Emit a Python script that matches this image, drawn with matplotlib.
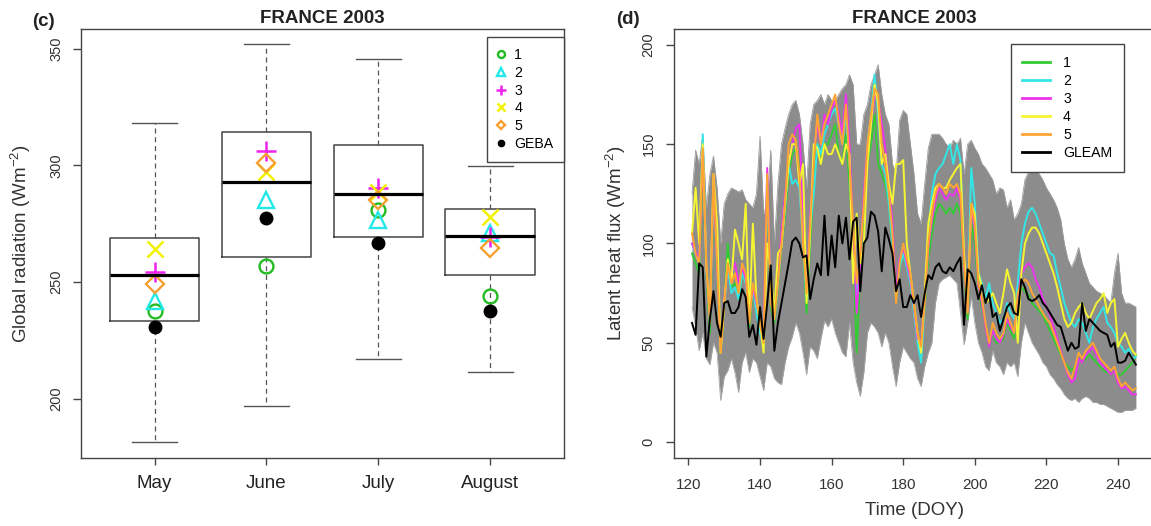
import matplotlib
matplotlib.use('Agg')
import matplotlib.pyplot as plt
import numpy as np

plt.rcParams['font.family'] = ['Liberation Sans', 'DejaVu Sans']
plt.rcParams['mathtext.fontset'] = 'custom'
plt.rcParams['mathtext.rm'] = 'Liberation Sans'
plt.rcParams['mathtext.it'] = 'Liberation Sans:italic'

# ---- panel (c): monthly global radiation ----
months = ['May', 'June', 'July', 'August']
box_low = [181.5, 196.7, 217.1, 211.3]
box_q1 = [233.4, 260.9, 269.4, 253.1]
box_med = [252.9, 293.0, 287.7, 269.7]
box_q3 = [268.9, 314.4, 308.6, 281.2]
box_high = [318.4, 352.0, 345.7, 299.6]

run1 = [237.4, 257.0, 280.9, 243.9]
run2 = [241.7, 285.1, 276.6, 270.9]
run3 = [254.5, 306.3, 290.2, 269.4]
run4 = [264.0, 297.3, 288.7, 277.7]
run5 = [249.2, 300.9, 285.2, 264.4]
geba = [230.7, 277.3, 266.6, 237.4]

# ---- panel (d): daily latent heat flux, DOY 121..245 ----
doy = np.arange(121, 246)
ens_upper = [125, 147, 140, 155, 118, 135, 144, 128, 100, 120,
             125, 128, 127, 126, 127, 122, 120, 118, 125, 154,
             115, 120, 147, 100, 130, 150, 158, 165, 170, 172,
             165, 150, 128, 160, 170, 172, 175, 170, 175, 172,
             172, 175, 178, 180, 185, 180, 150, 150, 165, 170,
             180, 185, 190, 175, 165, 160, 140, 135, 162, 167,
             165, 150, 135, 115, 110, 130, 148, 155, 155, 155,
             153, 150, 148, 152, 150, 153, 135, 150, 152, 148,
             145, 140, 138, 135, 132, 125, 128, 127, 118, 122,
             112, 115, 120, 132, 136, 138, 137, 135, 132, 128,
             125, 122, 118, 112, 100, 92, 88, 92, 98, 90,
             85, 80, 78, 76, 75, 74, 72, 70, 85, 95,
             75, 70, 70, 69, 68]
ens_lower = [68, 58, 46, 55, 42, 39, 50, 45, 21, 33,
             36, 42, 35, 25, 40, 45, 35, 42, 40, 33,
             26, 40, 38, 32, 30, 29, 40, 48, 53, 60,
             55, 45, 34, 48, 46, 42, 52, 61, 58, 62,
             55, 50, 45, 43, 60, 40, 30, 23, 35, 55,
             60, 58, 55, 48, 55, 50, 38, 28, 40, 48,
             45, 42, 40, 32, 28, 38, 45, 50, 70, 80,
             82, 83, 84, 82, 80, 65, 49, 60, 73, 60,
             50, 45, 38, 36, 46, 40, 38, 34, 40, 38,
             40, 33, 50, 60, 55, 50, 47, 44, 40, 38,
             34, 32, 29, 27, 24, 22, 21, 22, 20, 22,
             23, 22, 20, 20, 19, 19, 18, 17, 16, 15,
             15, 16, 16, 16, 17]
le1 = [95, 90, 85, 140, 85, 55, 125, 85, 45, 68,
       100, 78, 80, 72, 85, 80, 58, 75, 68, 58,
       50, 130, 68, 60, 78, 98, 115, 135, 145, 148,
       140, 100, 65, 100, 130, 150, 140, 150, 150, 155,
       160, 145, 140, 155, 130, 100, 45, 85, 115, 140,
       150, 165, 140, 135, 130, 120, 100, 72, 88, 95,
       88, 80, 65, 52, 50, 68, 92, 105, 115, 120,
       118, 115, 118, 115, 120, 115, 85, 62, 110, 100,
       75, 68, 58, 48, 55, 50, 50, 52, 60, 56,
       52, 70, 78, 76, 74, 70, 68, 66, 64, 60,
       56, 52, 48, 44, 40, 38, 36, 38, 42, 40,
       42, 44, 42, 40, 38, 36, 35, 34, 36, 34,
       34, 36, 38, 40, 44]
le2 = [100, 95, 90, 155, 88, 60, 132, 88, 48, 70,
       88, 75, 78, 72, 85, 80, 62, 78, 65, 55,
       48, 130, 72, 62, 80, 100, 118, 140, 130, 132,
       128, 100, 72, 108, 125, 150, 145, 155, 160, 165,
       168, 160, 150, 165, 140, 105, 70, 95, 120, 150,
       165, 185, 165, 140, 135, 120, 100, 72, 88, 95,
       88, 80, 65, 50, 40, 70, 105, 125, 135, 138,
       140, 145, 150, 140, 150, 142, 90, 68, 138, 120,
       85, 80, 72, 80, 70, 65, 60, 62, 70, 65,
       62, 80, 100, 110, 116, 118, 115, 110, 105, 100,
       95, 94, 85, 78, 70, 65, 60, 58, 62, 60,
       55, 50, 58, 62, 65, 68, 60, 58, 55, 50,
       48, 45, 47, 42, 43]
le3 = [100, 96, 92, 145, 88, 62, 130, 88, 47, 72,
       88, 85, 90, 80, 88, 82, 62, 78, 70, 62,
       55, 138, 72, 65, 82, 105, 125, 140, 150, 158,
       160, 110, 78, 112, 145, 160, 150, 165, 160, 168,
       172, 165, 155, 175, 150, 105, 65, 90, 125, 150,
       160, 175, 172, 160, 148, 130, 110, 75, 92, 98,
       90, 82, 68, 52, 50, 72, 98, 112, 122, 128,
       125, 122, 125, 124, 128, 122, 88, 66, 118, 108,
       78, 70, 58, 48, 56, 52, 50, 54, 62, 58,
       55, 72, 85, 88, 90, 88, 82, 78, 72, 68,
       64, 58, 52, 46, 40, 34, 30, 32, 42, 40,
       44, 46, 48, 44, 40, 38, 36, 34, 36, 30,
       27, 28, 26, 24, 24]
le4 = [105, 128, 100, 150, 88, 65, 135, 110, 45, 70,
       92, 80, 107, 100, 92, 120, 62, 110, 72, 60,
       45, 100, 85, 65, 95, 98, 120, 140, 150, 150,
       130, 140, 70, 105, 150, 148, 140, 150, 145, 145,
       150, 145, 140, 150, 145, 80, 115, 90, 100, 140,
       160, 180, 170, 140, 145, 130, 120, 140, 140, 142,
       100, 85, 70, 55, 45, 75, 110, 120, 128, 130,
       128, 128, 132, 135, 138, 140, 95, 70, 120, 115,
       85, 78, 70, 72, 75, 70, 65, 75, 87, 80,
       75, 50, 85, 100, 105, 108, 108, 105, 100, 95,
       90, 85, 78, 70, 62, 58, 60, 65, 68, 70,
       65, 62, 66, 70, 72, 75, 65, 70, 72, 48,
       52, 55, 50, 46, 44]
le5 = [105, 95, 90, 148, 90, 60, 135, 90, 45, 70,
       90, 80, 85, 75, 90, 85, 60, 80, 72, 60,
       50, 135, 70, 62, 80, 100, 120, 150, 155, 152,
       135, 100, 75, 110, 140, 165, 150, 160, 165, 170,
       175, 160, 150, 170, 140, 110, 80, 95, 120, 150,
       165, 178, 175, 150, 140, 125, 105, 70, 90, 100,
       92, 85, 70, 55, 48, 70, 100, 115, 125, 130,
       128, 125, 130, 128, 130, 125, 90, 65, 120, 110,
       80, 72, 60, 50, 60, 55, 52, 55, 65, 60,
       55, 75, 80, 82, 80, 75, 72, 68, 65, 62,
       60, 55, 50, 45, 40, 35, 32, 38, 45, 42,
       46, 48, 50, 46, 42, 40, 38, 36, 38, 32,
       28, 30, 28, 26, 27]
gleam = [60, 54, 90, 88, 43, 62, 76, 60, 53, 70,
         71, 65, 65, 68, 77, 73, 53, 59, 49, 68,
         52, 70, 89, 46, 60, 70, 80, 90, 101, 103,
         100, 93, 94, 72, 82, 90, 84, 114, 84, 104,
         88, 114, 100, 113, 92, 111, 113, 76, 100, 103,
         116, 114, 106, 86, 108, 102, 95, 76, 82, 68,
         68, 74, 70, 74, 63, 75, 84, 82, 88, 90,
         86, 85, 88, 86, 90, 93, 59, 87, 85, 80,
         72, 79, 70, 75, 63, 65, 56, 62, 68, 70,
         65, 64, 82, 78, 72, 71, 72, 74, 70, 68,
         65, 62, 59, 58, 52, 46, 50, 47, 48, 70,
         56, 62, 60, 58, 56, 55, 54, 48, 50, 40,
         40, 41, 45, 42, 39]

c_green = '#22bb22'
c_cyan = '#22e8e8'
c_mag = '#ee22ee'
c_yel = '#f2f200'
c_orange = '#f5a030'
frame_c = '#444444'

fig = plt.figure(figsize=(11.51, 5.26), dpi=100)
ax1 = fig.add_axes([0.0701, 0.1293, 0.4199, 0.8161])
ax2 = fig.add_axes([0.5858, 0.1293, 0.4165, 0.8156])

# boxplot
stats = []
for i in range(4):
    stats.append(dict(med=box_med[i], q1=box_q1[i], q3=box_q3[i],
                      whislo=box_low[i], whishi=box_high[i], fliers=[]))
ax1.bxp(stats, positions=[1, 2, 3, 4], widths=0.8, capwidths=0.4,
        showfliers=False,
        boxprops=dict(color=frame_c, lw=1.1),
        whiskerprops=dict(color='#555555', lw=0.9, linestyle=(0, (4, 3))),
        capprops=dict(color='#555555', lw=1.0),
        medianprops=dict(color='black', lw=2.3))

xpos = [1, 2, 3, 4]
ax1.plot(xpos, run1, 'o', ms=10, mfc='none', mec=c_green, mew=1.7, label='1')
ax1.plot(xpos, run2, '^', ms=12, mfc='none', mec=c_cyan, mew=1.7, label='2')
ax1.plot(xpos, run3, '+', ms=14, color=c_mag, mew=1.8, label='3')
ax1.plot(xpos, run4, 'x', ms=11, color=c_yel, mew=1.8, label='4')
ax1.plot(xpos, run5, 'D', ms=9, mfc='none', mec=c_orange, mew=1.7, label='5')
ax1.plot(xpos, geba, 'o', ms=9, color='black', label='GEBA')

ax1.set_xlim(0.34, 4.66)
ax1.set_ylim(174.6, 358.6)
ax1.set_xticks(xpos)
ax1.set_xticklabels(months)
ax1.set_yticks([200, 250, 300, 350])
ax1.tick_params(axis='x', length=5, width=1, color=frame_c, labelsize=13.5,
                pad=7.0, labelcolor='#222222')
ax1.tick_params(axis='y', length=5.8, width=1, color=frame_c, labelsize=10.5,
                pad=6.8, labelrotation=90, labelcolor='#333333')
for t in ax1.get_yticklabels():
    t.set_va('center')
leg1 = ax1.legend(loc='upper right', bbox_to_anchor=(1.0, 0.98), borderaxespad=0,
                  fontsize=10.2, markerscale=0.5, handlelength=0.5,
                  handletextpad=0.7, borderpad=0.75, labelspacing=0.27,
                  fancybox=False, edgecolor=frame_c, framealpha=1)
leg1.get_frame().set_linewidth(1.0)

# ensemble band + runs
ax2.fill_between(doy, ens_lower, ens_upper, color='#8c8c8c', lw=0)
ax2.plot(doy, ens_upper, color='#9a9a9a', lw=0.6)
ax2.plot(doy, ens_lower, color='#a5a5a5', lw=0.6)
ax2.plot(doy, le1, color='#33cc33', lw=1.4, label='1')
ax2.plot(doy, le2, color='#33e6e6', lw=1.4, label='2')
ax2.plot(doy, le3, color='#ee33ee', lw=1.4, label='3')
ax2.plot(doy, le4, color='#f5f533', lw=1.4, label='4')
ax2.plot(doy, le5, color='#ffa533', lw=1.4, label='5')
ax2.plot(doy, gleam, color='black', lw=1.4, label='GLEAM')

ax2.set_xlim(116.04, 249.96)
ax2.set_ylim(-8, 208)
ax2.set_xticks([120, 140, 160, 180, 200, 220, 240])
ax2.set_yticks([0, 50, 100, 150, 200])
ax2.tick_params(axis='x', length=5, width=1, color=frame_c, labelsize=11,
                pad=9.5, labelcolor='#333333')
ax2.tick_params(axis='y', length=5.8, width=1, color=frame_c, labelsize=10.5,
                pad=7.6, labelrotation=90, labelcolor='#333333')
for t in ax2.get_yticklabels():
    t.set_va('center')
leg2 = ax2.legend(loc='upper left', bbox_to_anchor=(0.7017, 0.9643), borderaxespad=0,
                  fontsize=10.2, handlelength=2.0, handletextpad=0.9,
                  borderpad=0.8, labelspacing=0.29, fancybox=False,
                  edgecolor=frame_c, framealpha=1)
leg2.get_frame().set_linewidth(1.0)
for ln in leg2.get_lines():
    ln.set_linewidth(2.0)

for ax in (ax1, ax2):
    for sp in ax.spines.values():
        sp.set_color(frame_c)
        sp.set_linewidth(1.0)

# titles and labels
fig.text(0.2801, 0.9652, 'FRANCE 2003', ha='center', va='center',
         fontsize=13.5, fontweight='bold', color='#222222')
fig.text(0.7941, 0.9652, 'FRANCE 2003', ha='center', va='center',
         fontsize=13.5, fontweight='bold', color='#222222')
fig.text(0.0374, 0.9587, '(c)', ha='center', va='center', fontsize=13.5,
         fontweight='bold', color='#222222')
fig.text(0.5456, 0.9633, '(d)', ha='center', va='center', fontsize=13.5,
         fontweight='bold', color='#222222')
fig.text(0.018, 0.5374, 'Global radiation (Wm$^{-2}$)', rotation=90,
         ha='center', va='center', fontsize=13.5, color='#333333')
fig.text(0.5349, 0.5374, 'Latent heat flux (Wm$^{-2}$)', rotation=90,
         ha='center', va='center', fontsize=13.5, color='#333333')
fig.text(0.7941, 0.0291, 'Time (DOY)', ha='center', va='center',
         fontsize=13.5, color='#333333')

fig.savefig('out.png', dpi=100)
